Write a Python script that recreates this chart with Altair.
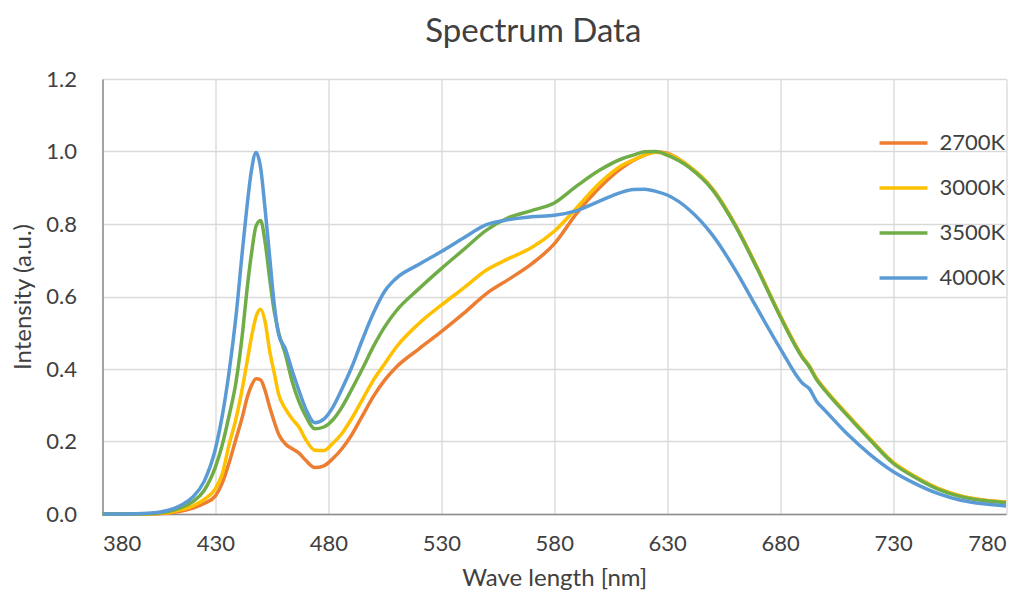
import altair as alt
import pandas as pd

wavelength = [380, 390, 400, 405, 410, 415, 420, 425, 430,
              433, 436, 439, 442, 444, 446, 448, 450, 452, 454, 456, 458,
              461, 464, 467, 470, 474, 478, 482, 486, 490, 495,
              500, 505, 510, 520, 530, 540, 550, 560, 570, 580,
              590, 600, 610, 615, 620, 625, 630, 640, 650, 660,
              670, 680, 690, 693, 696, 700, 710, 720, 730, 740,
              750, 760, 770, 780]

k2700 = [0.0, 0.0, 0.0, 0.001, 0.003, 0.008, 0.016, 0.029, 0.05,
         0.085, 0.14, 0.205, 0.27, 0.32, 0.355, 0.373, 0.37, 0.34, 0.295, 0.255, 0.22,
         0.193, 0.18, 0.168, 0.148, 0.128, 0.133, 0.153, 0.18, 0.215, 0.27,
         0.325, 0.37, 0.405, 0.455, 0.503, 0.554, 0.608, 0.648, 0.69, 0.745,
         0.83, 0.9, 0.955, 0.975, 0.99, 0.999, 0.995, 0.957, 0.897, 0.799,
         0.677, 0.547, 0.432, 0.407, 0.374, 0.342, 0.272, 0.205, 0.142, 0.102,
         0.07, 0.049, 0.038, 0.032]

k3000 = [0.0, 0.0, 0.0, 0.002, 0.005, 0.012, 0.022, 0.04, 0.07,
         0.11, 0.19, 0.26, 0.35, 0.42, 0.49, 0.545, 0.565, 0.53, 0.45, 0.39, 0.33,
         0.29, 0.262, 0.24, 0.205, 0.176, 0.175, 0.195, 0.222, 0.26, 0.315,
         0.37, 0.415, 0.46, 0.525, 0.576, 0.624, 0.673, 0.705, 0.735, 0.78,
         0.845, 0.912, 0.962, 0.977, 0.99, 0.998, 0.993, 0.958, 0.898, 0.8,
         0.678, 0.548, 0.433, 0.408, 0.375, 0.343, 0.273, 0.206, 0.143, 0.103,
         0.071, 0.05, 0.039, 0.033]

k3500 = [0.0, 0.0, 0.001, 0.003, 0.008, 0.018, 0.034, 0.065, 0.13,
         0.19, 0.27, 0.36, 0.5, 0.62, 0.72, 0.795, 0.81, 0.75, 0.65, 0.56, 0.5,
         0.44, 0.365, 0.31, 0.27, 0.235, 0.24, 0.26, 0.295, 0.34, 0.4,
         0.463, 0.517, 0.56, 0.621, 0.677, 0.73, 0.783, 0.818, 0.837, 0.858,
         0.905, 0.948, 0.98, 0.99, 0.999, 1.0, 0.99, 0.955, 0.895, 0.797,
         0.675, 0.545, 0.43, 0.405, 0.372, 0.34, 0.27, 0.203, 0.14, 0.1,
         0.068, 0.048, 0.037, 0.031]

k4000 = [0.0, 0.0, 0.002, 0.005, 0.012, 0.025, 0.047, 0.09, 0.18,
         0.27, 0.39, 0.54, 0.73, 0.85, 0.95, 0.997, 0.955, 0.84, 0.71, 0.58, 0.495,
         0.455, 0.395, 0.34, 0.29, 0.252, 0.262, 0.295, 0.345, 0.4, 0.48,
         0.555, 0.615, 0.65, 0.688, 0.724, 0.762, 0.798, 0.812, 0.82, 0.824,
         0.837, 0.863, 0.888, 0.895, 0.896, 0.89, 0.88, 0.838, 0.77, 0.675,
         0.565, 0.457, 0.36, 0.345, 0.312, 0.285, 0.219, 0.163, 0.117, 0.083,
         0.056, 0.038, 0.028, 0.022]

series_names = ["2700K", "3000K", "3500K", "4000K"]
series_colors = ["#ED7D31", "#FFC000", "#70AD47", "#5B9BD5"]
x_ticks = [380, 430, 480, 530, 580, 630, 680, 730, 780]
y_ticks = [0.0, 0.2, 0.4, 0.6, 0.8, 1.0, 1.2]

rows = []
for name, vals in zip(series_names, [k2700, k3000, k3500, k4000]):
    for w, v in zip(wavelength, vals):
        rows.append({"nm": w, "val": v, "series": name})
df = pd.DataFrame(rows)

FONT = "Lato"
TXT = "#404040"

chart = alt.Chart(df).mark_line(interpolate="monotone", strokeWidth=3.5).encode(
    x=alt.X("nm:Q",
            scale=alt.Scale(domain=[380, 780], nice=False, zero=False),
            axis=alt.Axis(values=x_ticks, title="Wave length [nm]", format="d",
                          labelPadding=19, titlePadding=12)),
    y=alt.Y("val:Q",
            scale=alt.Scale(domain=[0, 1.2], nice=False),
            axis=alt.Axis(values=y_ticks, title="Intensity (a.u.)", format=".1f",
                          labelPadding=26, titlePadding=10)),
    color=alt.Color("series:N",
                    scale=alt.Scale(domain=series_names, range=series_colors),
                    legend=alt.Legend(title=None, orient="none", legendX=775, legendY=38,
                                      symbolType="stroke", symbolStrokeWidth=3.5,
                                      symbolSize=2300, rowPadding=8, labelOffset=10,
                                      labelFont=FONT, labelFontSize=22, labelColor=TXT)),
).properties(
    width=903.5,
    height=435,
    title=alt.Title("Spectrum Data", font=FONT, fontSize=33, fontWeight="normal",
                    color=TXT, offset=19, dx=-21, anchor="middle", frame="group"),
    padding={"left": 94.5, "top": 71, "right": 14, "bottom": 79},
    autosize=alt.AutoSizeParams(type="none"),
).configure_view(
    stroke=None
).configure_axis(
    grid=True,
    gridColor="#d9d9d9",
    gridWidth=1.3,
    domainColor="#8c8c8c",
    domainWidth=1.5,
    ticks=False,
    labelFont=FONT,
    labelFontSize=22,
    labelColor=TXT,
    titleFont=FONT,
    titleFontSize=24,
    titleFontWeight="normal",
    titleColor=TXT,
)

chart.save("out.html", embed_options={"renderer": "svg", "actions": False})
